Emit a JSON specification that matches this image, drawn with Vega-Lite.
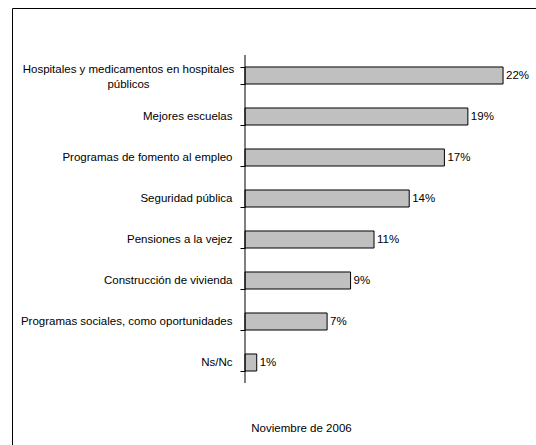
{
  "$schema": "https://vega.github.io/schema/vega-lite/v6.json",
  "width": 528,
  "height": 442,
  "autosize": {"type": "none"},
  "padding": {"left": 12, "top": 8, "right": 0, "bottom": 0},
  "background": "#ffffff",
  "config": {
    "view": {"stroke": "#000000", "strokeWidth": 1},
    "font": "Liberation Sans"
  },
  "data": {
    "values": [
      {"cat": "Hospitales y medicamentos en hospitales públicos", "pct": 22, "label": "22%"},
      {"cat": "Mejores escuelas", "pct": 19, "label": "19%"},
      {"cat": "Programas de fomento al empleo", "pct": 17, "label": "17%"},
      {"cat": "Seguridad pública", "pct": 14, "label": "14%"},
      {"cat": "Pensiones a la vejez", "pct": 11, "label": "11%"},
      {"cat": "Construcción de vivienda", "pct": 9, "label": "9%"},
      {"cat": "Programas sociales, como oportunidades", "pct": 7, "label": "7%"},
      {"cat": "Ns/Nc", "pct": 1, "label": "1%"}
    ]
  },
  "encoding": {
    "y": {
      "field": "cat",
      "type": "nominal",
      "sort": null,
      "scale": {"range": [47, 375], "paddingInner": 0.585, "paddingOuter": 0.2925},
      "axis": {
        "title": null,
        "orient": "left",
        "offset": -233,
        "domain": false,
        "ticks": true,
        "tickBand": "extent",
        "tickSize": 5,
        "tickColor": "#000000",
        "tickWidth": 1,
        "grid": false,
        "labelFont": "Liberation Sans",
        "labelFontSize": 11.5,
        "labelColor": "#000000",
        "labelLimit": 400,
        "labelLineHeight": 15,
        "labelOverlap": false,
        "labelBaseline": "middle",
        "labelAlign": {"condition": {"test": "datum.value == 'Hospitales y medicamentos en hospitales públicos'", "value": "center"}, "value": "right"},
        "labelPadding": {"condition": {"test": "datum.value == 'Hospitales y medicamentos en hospitales públicos'", "value": 112}, "value": 8},
        "labelOffset": {"condition": {"test": "datum.value == 'Hospitales y medicamentos en hospitales públicos'", "value": -6}, "value": 0},
        "labelExpr": "datum.value == 'Hospitales y medicamentos en hospitales públicos' ? ['Hospitales y medicamentos en hospitales', 'públicos'] : datum.label"
      }
    }
  },
  "layer": [
    {
      "mark": {"type": "bar", "fill": "#c0c0c0", "stroke": "#000000", "strokeWidth": 1},
      "encoding": {
        "x": {
          "field": "pct",
          "type": "quantitative",
          "scale": {"domain": [-19.864, 25.15], "nice": false, "zero": false},
          "axis": {
            "orient": "bottom",
            "title": "Noviembre de 2006",
            "labels": false,
            "ticks": false,
            "domain": false,
            "grid": false,
            "offset": -30,
            "titleX": 289,
            "titleY": 8,
            "titleAlign": "center",
            "titleBaseline": "middle",
            "titleFont": "Liberation Sans",
            "titleFontSize": 11.5,
            "titleFontWeight": "normal",
            "titleColor": "#000000"
          }
        }
      }
    },
    {
      "mark": {"type": "tick", "color": "#000000", "thickness": 1, "size": 41, "opacity": 1},
      "encoding": {"x": {"datum": 0}}
    },
    {
      "mark": {"type": "text", "align": "left", "baseline": "middle", "dx": 3, "font": "Liberation Sans", "fontSize": 11.5, "color": "#000000"},
      "encoding": {
        "x": {"field": "pct", "type": "quantitative"},
        "text": {"field": "label"}
      }
    }
  ]
}
